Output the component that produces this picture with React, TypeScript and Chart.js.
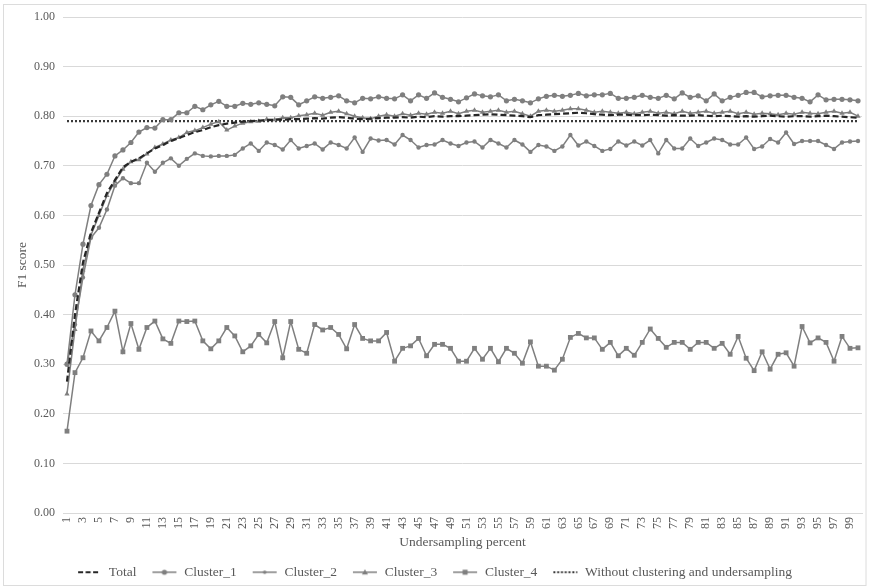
import React, { useEffect, useRef } from "react";
import { Chart, registerables } from "chart.js";
Chart.register(...registerables);

const categories: string[] = Array.from({ length: 100 }, (_, i) => String(i + 1));

const totalValues = [
  0.265, 0.400, 0.505, 0.565, 0.605, 0.645, 0.671, 0.697, 0.708, 0.715,
  0.725, 0.735, 0.742, 0.750, 0.756, 0.762, 0.768, 0.772, 0.778, 0.782,
  0.785, 0.787, 0.789, 0.790, 0.791, 0.792, 0.793, 0.793, 0.794, 0.794,
  0.795, 0.796, 0.795, 0.797, 0.798, 0.797, 0.795, 0.794, 0.795, 0.796,
  0.797, 0.797, 0.798, 0.797, 0.799, 0.798, 0.800, 0.799, 0.800, 0.800,
  0.801, 0.802, 0.803, 0.804, 0.803, 0.802, 0.801, 0.800, 0.798, 0.802,
  0.803, 0.804, 0.805, 0.806, 0.807, 0.806, 0.804, 0.803, 0.802, 0.803,
  0.803, 0.802, 0.802, 0.803, 0.802, 0.801, 0.802, 0.801, 0.801, 0.802,
  0.801, 0.800, 0.801, 0.800, 0.799, 0.800, 0.799, 0.800, 0.801, 0.800,
  0.799, 0.800, 0.800, 0.799, 0.800, 0.801, 0.800, 0.799, 0.798, 0.797,
];

const cluster1Values = [
  0.300, 0.440, 0.542, 0.620, 0.662, 0.683, 0.720, 0.732, 0.747, 0.768,
  0.777, 0.776, 0.793, 0.793, 0.807, 0.807, 0.820, 0.813, 0.823, 0.830,
  0.820, 0.820, 0.826, 0.824, 0.827, 0.824, 0.821, 0.839, 0.838, 0.823,
  0.831, 0.839, 0.836, 0.838, 0.841, 0.831, 0.827, 0.836, 0.835, 0.839,
  0.836, 0.835, 0.843, 0.831, 0.843, 0.836, 0.847, 0.838, 0.834, 0.829,
  0.837, 0.845, 0.841, 0.839, 0.843, 0.831, 0.834, 0.831, 0.827, 0.835,
  0.840, 0.842, 0.840, 0.842, 0.846, 0.841, 0.843, 0.843, 0.846, 0.836,
  0.836, 0.838, 0.842, 0.838, 0.836, 0.842, 0.835, 0.847, 0.838, 0.841,
  0.831, 0.845, 0.831, 0.838, 0.842, 0.848, 0.848, 0.839, 0.841, 0.842,
  0.842, 0.838, 0.836, 0.829, 0.843, 0.833, 0.834, 0.834, 0.833, 0.831,
];

const cluster2Values = [
  0.300, 0.380, 0.475, 0.555, 0.575, 0.612, 0.660, 0.675, 0.665, 0.665,
  0.706, 0.688, 0.706, 0.715, 0.700, 0.714, 0.725, 0.720, 0.719, 0.720,
  0.720, 0.722, 0.735, 0.745, 0.730, 0.747, 0.742, 0.733, 0.752, 0.735,
  0.740, 0.745, 0.733, 0.747, 0.742, 0.735, 0.757, 0.728, 0.755, 0.751,
  0.752, 0.743, 0.762, 0.752, 0.737, 0.742, 0.743, 0.752, 0.745, 0.740,
  0.747, 0.749, 0.737, 0.752, 0.745, 0.737, 0.752, 0.743, 0.728, 0.742,
  0.739, 0.730, 0.739, 0.762, 0.741, 0.749, 0.740, 0.730, 0.734, 0.749,
  0.741, 0.749, 0.741, 0.752, 0.725, 0.752, 0.735, 0.735, 0.755, 0.740,
  0.747, 0.755, 0.752, 0.743, 0.743, 0.757, 0.734, 0.739, 0.754, 0.747,
  0.767, 0.744, 0.750, 0.750, 0.750, 0.742, 0.734, 0.747, 0.749, 0.750,
];

const cluster3Values = [
  0.240, 0.370, 0.490, 0.560, 0.600, 0.640, 0.668, 0.693, 0.708, 0.712,
  0.724, 0.737, 0.744, 0.752, 0.757, 0.767, 0.771, 0.777, 0.784, 0.789,
  0.772, 0.780, 0.786, 0.789, 0.790, 0.794, 0.793, 0.797, 0.797, 0.801,
  0.803, 0.806, 0.802, 0.808, 0.810, 0.805, 0.800, 0.797, 0.795, 0.800,
  0.803, 0.800, 0.805, 0.802, 0.806, 0.804, 0.808, 0.806, 0.810, 0.805,
  0.810, 0.812, 0.808, 0.810, 0.812, 0.808, 0.810, 0.805, 0.800, 0.810,
  0.812, 0.810, 0.812, 0.815, 0.815, 0.812, 0.808, 0.810, 0.808, 0.806,
  0.808, 0.805, 0.808, 0.810, 0.806, 0.808, 0.805, 0.810, 0.806, 0.808,
  0.810, 0.806, 0.808, 0.810, 0.805, 0.808, 0.804, 0.806, 0.805, 0.803,
  0.806, 0.804, 0.808, 0.806, 0.805, 0.808, 0.810, 0.806, 0.808, 0.800,
];

const cluster4Values = [
  0.165, 0.283, 0.313, 0.367, 0.347, 0.374, 0.407, 0.325, 0.382, 0.330,
  0.374, 0.387, 0.351, 0.342, 0.387, 0.386, 0.387, 0.347, 0.331, 0.347,
  0.374, 0.357, 0.325, 0.337, 0.360, 0.343, 0.386, 0.313, 0.386, 0.330,
  0.322, 0.380, 0.369, 0.374, 0.360, 0.331, 0.380, 0.352, 0.347, 0.347,
  0.364, 0.306, 0.332, 0.337, 0.352, 0.317, 0.340, 0.340, 0.332, 0.306,
  0.306, 0.332, 0.310, 0.332, 0.305, 0.332, 0.322, 0.302, 0.345, 0.296,
  0.296, 0.288, 0.310, 0.354, 0.362, 0.353, 0.353, 0.330, 0.344, 0.317,
  0.332, 0.318, 0.344, 0.371, 0.352, 0.334, 0.344, 0.344, 0.330, 0.344,
  0.344, 0.332, 0.342, 0.320, 0.356, 0.312, 0.287, 0.325, 0.290, 0.320,
  0.323, 0.296, 0.376, 0.343, 0.353, 0.344, 0.306, 0.356, 0.332, 0.333,
];

const withoutValues = [
  0.79, 0.79, 0.79, 0.79, 0.79, 0.79, 0.79, 0.79, 0.79, 0.79,
  0.79, 0.79, 0.79, 0.79, 0.79, 0.79, 0.79, 0.79, 0.79, 0.79,
  0.79, 0.79, 0.79, 0.79, 0.79, 0.79, 0.79, 0.79, 0.79, 0.79,
  0.79, 0.79, 0.79, 0.79, 0.79, 0.79, 0.79, 0.79, 0.79, 0.79,
  0.79, 0.79, 0.79, 0.79, 0.79, 0.79, 0.79, 0.79, 0.79, 0.79,
  0.79, 0.79, 0.79, 0.79, 0.79, 0.79, 0.79, 0.79, 0.79, 0.79,
  0.79, 0.79, 0.79, 0.79, 0.79, 0.79, 0.79, 0.79, 0.79, 0.79,
  0.79, 0.79, 0.79, 0.79, 0.79, 0.79, 0.79, 0.79, 0.79, 0.79,
  0.79, 0.79, 0.79, 0.79, 0.79, 0.79, 0.79, 0.79, 0.79, 0.79,
  0.79, 0.79, 0.79, 0.79, 0.79, 0.79, 0.79, 0.79, 0.79, 0.79,
];

const seriesLabels = ["Total", "Cluster_1", "Cluster_2", "Cluster_3", "Cluster_4", "Without clustering and undersampling"];

const FONT = "'Liberation Serif', 'Times New Roman', serif";
const GREY = "#7f7f7f";
const DARK = "#262626";
const TEXT = "#595959";

function makeSample(kind: string): HTMLCanvasElement {
  const c = document.createElement("canvas");
  c.width = 26;
  c.height = 12;
  const ctx = c.getContext("2d")!;
  const y = 6;
  ctx.lineCap = "butt";
  if (kind === "total") {
    ctx.strokeStyle = DARK;
    ctx.lineWidth = 2.2;
    ctx.setLineDash([5, 2.5]);
    ctx.beginPath(); ctx.moveTo(2, y); ctx.lineTo(24, y); ctx.stroke();
  } else if (kind === "without") {
    ctx.strokeStyle = "#3a3a3a";
    ctx.lineWidth = 2.2;
    ctx.setLineDash([2, 1.8]);
    ctx.beginPath(); ctx.moveTo(1, y); ctx.lineTo(25, y); ctx.stroke();
  } else {
    ctx.strokeStyle = GREY;
    ctx.fillStyle = GREY;
    ctx.lineWidth = 1.5;
    ctx.beginPath(); ctx.moveTo(1, y); ctx.lineTo(25, y); ctx.stroke();
    ctx.beginPath();
    if (kind === "circle") ctx.arc(13, y, 2.6, 0, Math.PI * 2);
    else if (kind === "dot") ctx.arc(13, y, 1.8, 0, Math.PI * 2);
    else if (kind === "triangle") { ctx.moveTo(13, y - 3); ctx.lineTo(16, y + 2.2); ctx.lineTo(10, y + 2.2); ctx.closePath(); }
    else if (kind === "rect") ctx.rect(10.5, y - 2.5, 5, 5);
    ctx.fill();
  }
  return c;
}

const framePlugin = {
  id: "frame",
  beforeDraw(chart: any) {
    const ctx = chart.ctx;
    ctx.save();
    ctx.fillStyle = "#ffffff";
    ctx.fillRect(0, 0, chart.width, chart.height);
    ctx.strokeStyle = "#dcdcdc";
    ctx.lineWidth = 1;
    ctx.strokeRect(3.5, 4.5, 862.5, 581);
    ctx.restore();
  },
};

export default function App() {
  const ref = useRef<HTMLCanvasElement>(null);
  useEffect(() => {
    document.body.style.margin = "0";
    const samples = [
      makeSample("total"),
      makeSample("circle"),
      makeSample("dot"),
      makeSample("triangle"),
      makeSample("rect"),
      makeSample("without"),
    ];
    const base = {
      borderColor: GREY,
      backgroundColor: GREY,
      pointBackgroundColor: GREY,
      pointBorderColor: GREY,
      borderWidth: 1.5,
      pointBorderWidth: 0,
      tension: 0,
      fill: false,
    };
    const chart = new Chart(ref.current!, {
      type: "line",
      data: {
        labels: categories,
        datasets: [
          { label: seriesLabels[0], data: totalValues, borderColor: DARK, backgroundColor: DARK, borderWidth: 2.2, borderDash: [6, 3], pointRadius: 0, tension: 0, fill: false },
          { ...base, label: seriesLabels[1], data: cluster1Values, pointStyle: "circle", pointRadius: 2.6 },
          { ...base, label: seriesLabels[2], data: cluster2Values, pointStyle: "circle", pointRadius: 2.2 },
          { ...base, label: seriesLabels[3], data: cluster3Values, pointStyle: "triangle", pointRadius: 3 },
          { ...base, label: seriesLabels[4], data: cluster4Values, pointStyle: "rect", pointRadius: 3.4 },
          { label: seriesLabels[5], data: withoutValues, borderColor: "#3a3a3a", backgroundColor: "#3a3a3a", borderWidth: 2.4, borderDash: [2, 2], borderCapStyle: "butt", pointRadius: 0, tension: 0, fill: false },
        ] as any,
      },
      options: {
        animation: false,
        responsive: false,
        layout: { padding: { left: 6, right: 7, top: 17, bottom: -2 } },
        plugins: {
          tooltip: { enabled: false },
          legend: {
            position: "bottom",
            labels: {
              usePointStyle: true,
              pointStyleWidth: 26,
              padding: 15,
              color: TEXT,
              font: { family: FONT, size: 13.5 },
              generateLabels: (ch: any) =>
                ch.data.datasets.map((ds: any, i: number) => ({
                  text: ds.label,
                  pointStyle: samples[i],
                  fontColor: TEXT,
                  hidden: false,
                  datasetIndex: i,
                  lineWidth: 0,
                  strokeStyle: "rgba(0,0,0,0)",
                  fillStyle: "rgba(0,0,0,0)",
                })),
            },
          },
        },
        scales: {
          x: {
            type: "category",
            offset: true,
            grid: { display: false, drawTicks: false },
            border: { display: true, color: "#d9d9d9" },
            ticks: {
              autoSkip: false,
              minRotation: 90,
              maxRotation: 90,
              padding: 4,
              color: TEXT,
              font: { family: FONT, size: 12 },
              callback: (_v: any, index: number) => (index % 2 === 0 ? categories[index] : ""),
            },
            title: {
              display: true,
              text: "Undersampling percent",
              color: TEXT,
              font: { family: FONT, size: 13.5 },
              padding: { top: 0, bottom: 0 },
            },
            afterFit: (s: any) => { s.height = 37.5; s.paddingRight = 0; s.paddingLeft = 0; },
          },
          y: {
            min: 0,
            max: 1,
            grid: { color: "#d9d9d9", lineWidth: 1, drawTicks: false },
            border: { display: false },
            ticks: {
              stepSize: 0.1,
              padding: 8,
              color: TEXT,
              font: { family: FONT, size: 12 },
              callback: (v: any) => Number(v).toFixed(2),
            },
            title: {
              display: true,
              text: "F1 score",
              color: TEXT,
              font: { family: FONT, size: 13.5 },
              padding: { top: 8, bottom: 0 },
            },
            afterFit: (s: any) => { s.width = 57; },
          },
        },
      } as any,
      plugins: [framePlugin],
    });
    return () => chart.destroy();
  }, []);
  return (
    <div style={{ position: "absolute", left: 0, top: 0, width: 869, height: 587 }}>
      <canvas ref={ref} width={869} height={587} style={{ display: "block", width: 869, height: 587 }} />
    </div>
  );
}
